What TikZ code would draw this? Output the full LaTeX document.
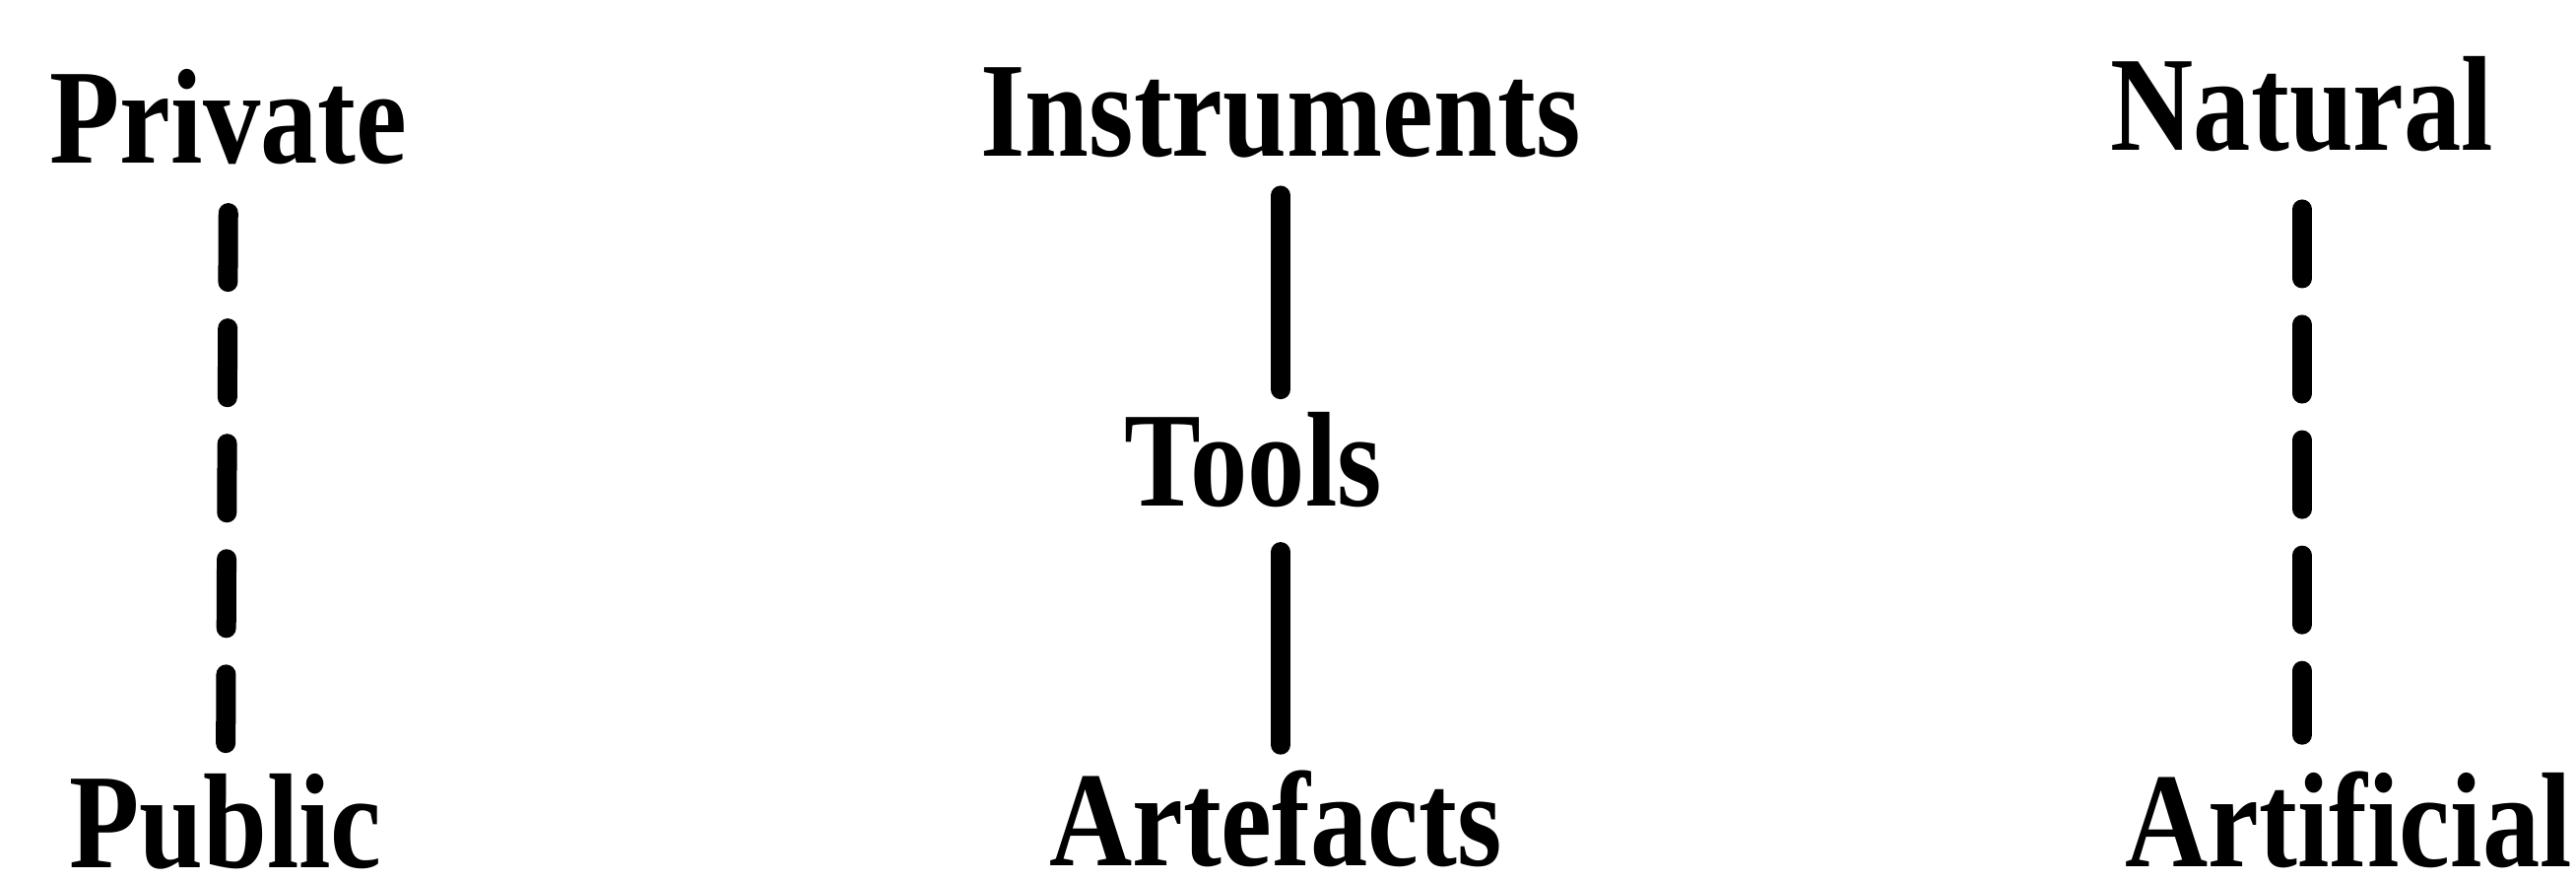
\documentclass[tikz,border=0pt]{standalone}
\usepackage{fontspec}
\newfontfamily\scanfont{Liberation Serif}[FakeStretch=0.85]
\usetikzlibrary{calc}

\begin{document}
\begin{tikzpicture}[x=0.01cm, y=-0.01cm,
	every node/.style={font=\scanfont\bfseries\fontsize{39}{47}\selectfont, inner sep=0pt, anchor=base},
	link/.style={line width=0.2cm, line cap=round},
	dashlink/.style={link, dash pattern=on 0.7cm off 0.47cm}]
	\useasboundingbox (0, 0) rectangle (2615, 893);

	% left column
	\node (private) at (232, 165) {Private};
	\node (public) at (229, 880) {Public};

	% middle column
	\node (instruments) at (1300, 158) {Instruments};
	\node (tools) at (1272, 513) {Tools};
	\node (artefacts) at (1295, 878) {Artefacts};

	% right column
	\node (natural) at (2337, 152) {Natural};
	\node (artificial) at (2384, 879) {Artificial};

	\draw [dashlink, shorten <=0.49cm, shorten >=0.3cm] (private.south) -- (public.north);

	\draw [link, shorten <=0.38cm, shorten >=0.22cm] (instruments.south) -- (instruments.south |- tools.north);
	\draw [link, shorten <=0.45cm, shorten >=0.25cm] (instruments.south |- tools.south) -- (instruments.south |- artefacts.north);

	\draw [dashlink, shorten <=0.58cm, shorten >=0.36cm] (natural.south) -- (natural.south |- artificial.north);

\end{tikzpicture}
\end{document}
